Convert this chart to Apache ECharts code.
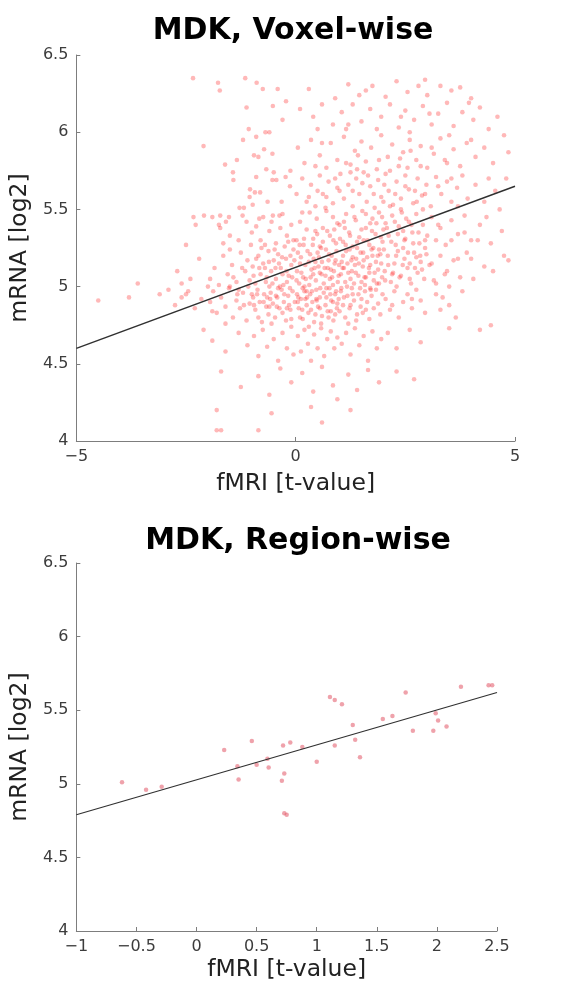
<!DOCTYPE html>
<html><head><meta charset="utf-8">
<script src="https://cdn.jsdelivr.net/npm/echarts@6/dist/echarts.min.js"></script>
<style>html,body{margin:0;padding:0;background:#fff}#c{width:568px;height:987px}</style>
</head><body><div id="c"></div>
<script>
// ---------- DATA ----------
const voxelTitle = 'MDK, Voxel-wise';
const regionTitle = 'MDK, Region-wise';
const xName = 'fMRI [t-value]';
const yName = 'mRNA [log2]';

// voxel-wise scatter (hand-read representative sample of the dense cloud)
const voxelUpperLeft = [
[-2.34,6.35],[-1.77,6.32],[-1.73,6.27],[-1.15,6.35],[-0.89,6.32],[-0.75,6.28],[-0.41,6.28],[-1.12,6.16],[-0.52,6.17],[-0.22,6.2],[-0.3,6.08],
[-1.07,6.02],[-0.69,6.0],[-0.6,6.0],[-2.1,5.91],[-1.2,5.95],[-0.9,5.97],[-0.72,5.89],[-0.95,5.85],[-0.85,5.84],[-0.53,5.86],[-1.34,5.82],
[-1.61,5.79],[-1.43,5.74],[-1.42,5.69],[-0.9,5.71],[-0.67,5.76],[-0.5,5.74],[-0.53,5.69],[-0.44,5.69],[-0.23,5.71],[-0.12,5.75],[-0.13,5.65],
[-1.04,5.63],[-0.93,5.61],[-0.81,5.61],[-1.05,5.58],[-0.64,5.55],[-1.28,5.51],[-1.18,5.51],[-0.98,5.53],[-0.32,5.55],[-2.33,5.45],[-2.09,5.46],
[-1.9,5.45],[-1.72,5.46],[-1.52,5.45],[-2.28,5.4],[-1.75,5.4],[-1.72,5.38],[-1.59,5.42],[-1.21,5.46],[-1.12,5.42],[-0.83,5.44],[-0.74,5.45],
[-0.52,5.46],[-0.37,5.46],[-0.3,5.47],[-2.5,5.27],
[-1.0,5.35],[-0.8,5.3],[-0.6,5.36],[-0.45,5.28],[-0.2,5.33],[-0.1,5.4],[-0.35,5.38],[-0.7,5.27],[-1.3,5.3],[-1.5,5.33],[-0.55,5.42],[-0.05,5.3],
[-0.9,5.39],[-0.25,5.26],[-1.65,5.28]
];
const voxelUpperRight = [
[0.3,6.28],[0.9,6.22],[1.2,6.31],[1.6,6.27],[1.75,6.3],[2.05,6.23],[2.3,6.33],[2.55,6.26],[2.8,6.3],[3.0,6.24],[3.3,6.3],[3.55,6.27],[3.75,6.29],[4.0,6.22],[1.45,6.24],[2.95,6.34],
[0.1,6.15],[0.4,6.1],[0.6,6.18],[0.85,6.05],[1.05,6.13],[1.3,6.18],[1.5,6.07],[1.7,6.15],[1.95,6.1],[2.15,6.18],[2.35,6.03],[2.5,6.14],[2.7,6.08],[2.9,6.17],
[3.1,6.05],[3.25,6.12],[3.45,6.19],[3.6,6.04],[3.8,6.13],[4.05,6.08],[4.2,6.16],[4.4,6.02],[4.6,6.1],[1.15,6.02],[2.6,6.0],[3.95,6.19],[0.5,6.02],[4.75,5.98],
[0.05,5.9],[0.2,5.8],[0.35,5.95],[0.55,5.85],[0.7,5.77],[0.8,5.93],[0.95,5.82],[1.1,5.97],[1.25,5.79],[1.35,5.88],[1.5,5.94],[1.6,5.81],[1.72,5.9],[1.85,5.76],
[1.95,5.98],[2.1,5.84],[2.2,5.92],[2.35,5.78],[2.45,5.87],[2.6,5.95],[2.75,5.82],[2.85,5.91],[3.0,5.77],[3.15,5.86],[3.3,5.96],[3.45,5.8],[3.6,5.89],[3.75,5.78],
[3.9,5.93],[4.1,5.84],[4.3,5.9],[4.5,5.8],[4.85,5.87],[1.4,5.76],[2.55,5.77],[0.45,5.78],
[0.02,5.6],[0.15,5.7],[0.25,5.55],[0.35,5.66],[0.45,5.52],[0.55,5.72],[0.62,5.6],[0.75,5.68],[0.85,5.54],[0.95,5.64],[1.02,5.73],[1.1,5.57],[1.2,5.66],[1.3,5.52],
[1.38,5.7],[1.45,5.6],[1.55,5.74],[1.62,5.55],[1.7,5.65],[1.8,5.51],[1.88,5.69],[1.95,5.58],[2.05,5.73],[2.12,5.62],[2.22,5.53],[2.3,5.68],[2.4,5.57],[2.5,5.72],
[2.58,5.63],[2.68,5.54],[2.78,5.7],[2.88,5.59],[2.98,5.66],[3.08,5.52],[3.2,5.71],[3.32,5.6],[3.45,5.68],[3.55,5.55],[3.68,5.64],[3.8,5.72],[3.92,5.57],[4.1,5.66],
[4.3,5.55],[4.55,5.62],[4.8,5.7],[1.25,5.74],[2.0,5.55],[0.68,5.51],
[0.02,5.3],[0.1,5.42],[0.18,5.27],[0.25,5.37],[0.32,5.48],[0.4,5.31],[0.48,5.44],[0.55,5.26],[0.62,5.38],[0.7,5.49],[0.78,5.33],[0.85,5.45],[0.92,5.28],[1.0,5.4],
[1.08,5.29],[1.15,5.47],[1.22,5.35],[1.3,5.26],[1.37,5.43],[1.45,5.32],[1.52,5.49],[1.6,5.38],[1.68,5.27],[1.75,5.44],[1.82,5.34],[1.9,5.48],[1.98,5.29],[2.05,5.41],
[2.12,5.33],[2.2,5.46],[2.28,5.27],[2.35,5.39],[2.42,5.48],[2.5,5.31],[2.58,5.42],[2.66,5.35],[2.75,5.47],[2.82,5.28],[2.9,5.4],[3.0,5.33],[3.1,5.45],[3.2,5.3],
[3.3,5.38],[3.42,5.27],[3.55,5.43],[3.7,5.34],[3.85,5.46],[4.0,5.3],[4.2,5.4],[4.45,5.28],[4.7,5.36],[0.45,5.36],[1.12,5.38],[1.55,5.3],[2.0,5.37],[2.45,5.36],
[0.88,5.37],[1.7,5.41],[0.15,5.48],[2.95,5.25]
];
const voxelCore = [
[-3.6,5.02],[-2.7,5.1],[-2.4,5.05],[-2.2,5.18],
[-1.95,5.05],[-1.85,5.12],[-1.75,5.01],[-1.65,5.2],[-1.55,5.08],[-1.45,5.14],[-1.35,5.03],[-1.25,5.22],[-1.15,5.1],[-1.05,5.04],[-1.5,5.24],[-1.1,5.17],
[-0.98,5.13],[-0.92,5.02],[-0.85,5.2],[-0.8,5.08],[-0.74,5.15],[-0.68,5.03],[-0.62,5.23],[-0.56,5.1],[-0.5,5.17],[-0.45,5.05],[-0.4,5.21],[-0.34,5.12],[-0.28,5.01],
[-0.22,5.18],[-0.16,5.07],[-0.1,5.14],[-0.05,5.24],[-0.6,5.0],[-0.3,5.08],[-0.9,5.18],[-0.7,5.12],[-0.2,5.03],[-0.48,5.24],[-0.12,5.2],[-0.38,5.15],
[0.03,5.1],[0.08,5.02],[0.12,5.19],[0.17,5.06],[0.22,5.14],[0.27,5.23],[0.31,5.01],[0.36,5.11],[0.41,5.18],[0.46,5.04],[0.5,5.22],[0.55,5.09],[0.6,5.16],[0.64,5.02],
[0.69,5.24],[0.73,5.12],[0.78,5.05],[0.82,5.2],[0.87,5.1],[0.91,5.17],[0.96,5.03],[0.99,5.14],[0.2,5.0],[0.4,5.08],[0.58,5.25],[0.75,5.17],[0.93,5.23],[0.1,5.15],
[0.33,5.21],[0.52,5.13],[0.68,5.07],[0.85,5.01],[0.05,5.22],[0.45,5.16],[0.8,5.11],
[1.03,5.08],[1.08,5.2],[1.13,5.03],[1.18,5.15],[1.23,5.24],[1.28,5.1],[1.33,5.02],[1.38,5.18],[1.43,5.07],[1.48,5.22],[1.53,5.13],[1.58,5.01],[1.63,5.19],[1.68,5.09],
[1.73,5.24],[1.78,5.04],[1.83,5.16],[1.88,5.11],[1.93,5.21],[1.97,5.06],[1.1,5.12],[1.25,5.05],[1.4,5.25],[1.55,5.17],[1.7,5.14],[1.85,5.02],[1.95,5.15],[1.15,5.23],
[1.35,5.14],[1.6,5.06],[1.75,5.2],[1.05,5.16],[1.5,5.03],[1.9,5.24],[1.3,5.19],
[2.03,5.1],[2.1,5.2],[2.17,5.03],[2.25,5.15],[2.33,5.23],[2.4,5.07],[2.48,5.18],[2.55,5.12],[2.63,5.02],[2.7,5.22],[2.78,5.09],[2.85,5.16],[2.93,5.05],[2.98,5.21],
[2.2,5.08],[2.45,5.25],[2.6,5.15],[2.88,5.11],[2.3,5.0],[2.75,5.19],
[3.05,5.14],[3.15,5.04],[3.3,5.2],[3.45,5.1],[3.6,5.17],[3.75,5.06],[3.9,5.22],[3.5,5.0],[4.3,5.13],[4.75,5.2],[4.05,5.05],[4.5,5.1],[4.85,5.17]
];
const voxelDense = [
[-1.42,5.06],[-1.33,4.95],[-1.22,5.12],[-1.18,4.88],[-1.08,5.0],[-1.02,5.27],[-0.96,5.07],[-0.88,4.95],[-0.83,5.12],[-0.78,5.25],[-0.73,4.9],[-0.66,5.06],[-0.61,5.16],
[-0.58,4.92],[-0.53,5.02],[-0.46,5.12],[-0.43,4.87],[-0.36,5.0],[-0.31,5.19],[-0.26,4.95],[-0.21,5.1],[-0.17,5.29],[-0.13,4.99],[-0.08,5.06],[-0.03,5.17],
[0.02,5.04],[0.06,4.93],[0.09,5.27],[0.13,5.09],[0.16,4.99],[0.19,5.31],[0.23,5.05],[0.26,4.93],[0.3,5.16],[0.34,5.06],[0.37,4.97],[0.39,5.27],[0.43,5.12],[0.47,4.92],
[0.49,5.34],[0.53,5.19],[0.56,4.99],[0.59,5.08],[0.62,5.29],[0.66,5.12],[0.7,4.99],[0.72,5.36],[0.76,5.21],[0.79,4.95],[0.83,5.06],[0.86,5.3],[0.89,5.15],[0.92,4.97],
[0.95,5.41],[0.98,5.07],
[1.01,5.31],[1.04,4.99],[1.07,5.12],[1.1,5.42],[1.14,5.27],[1.17,5.0],[1.2,5.09],[1.24,5.33],[1.27,5.17],[1.3,4.95],[1.34,5.45],[1.37,5.09],[1.4,5.29],[1.44,5.15],
[1.47,4.99],[1.5,5.37],[1.54,5.22],[1.57,5.06],[1.6,5.47],[1.64,5.3],[1.67,5.12],[1.71,4.98],[1.74,5.36],[1.77,5.25],[1.8,5.09],[1.84,5.41],[1.87,5.2],[1.9,5.02],
[1.94,5.32],[1.97,5.45],
[2.01,5.24],[2.04,5.04],[2.08,5.38],[2.11,5.14],[2.15,5.52],[2.18,5.29],[2.22,5.09],[2.26,5.42],[2.29,5.2],[2.33,5.34],[2.37,5.06],[2.4,5.5],[2.44,5.14],[2.48,5.3],
[2.52,5.44],[2.56,5.22],[2.6,5.05],[2.64,5.4],[2.68,5.28],[2.72,5.12],[2.76,5.55],[2.8,5.35],[2.84,5.2],[2.9,5.5],[2.95,5.3],
[0.3,5.58],[0.5,5.62],[0.7,5.58],[0.9,5.7],[1.0,5.62],[1.15,5.8],[1.3,5.62],[1.42,5.85],[1.52,5.67],[1.65,5.72],[1.78,5.6],[1.9,5.82],[2.02,5.66],[2.15,5.75],
[2.27,5.6],[2.38,5.83],[2.5,5.65],[2.62,5.88],[2.72,5.62],[2.85,5.78],[2.95,5.6],[3.1,5.9],[3.25,5.65],[3.4,5.82],[3.55,5.7],[3.7,5.52],[0.6,5.93],[1.2,6.05],
[1.85,6.02],[2.4,6.1],[3.05,6.12],[3.5,5.98],[4.0,5.95],[4.4,5.7],[4.65,5.5],
[3.1,5.15],[3.25,5.4],[3.4,5.08],[3.55,5.3],[3.7,5.18],[3.85,5.35],[4.0,5.18],[4.15,5.3],[4.35,5.45],[3.2,5.02],[3.35,4.93],[2.65,4.92],[2.2,4.88],[1.6,4.85],
[0.95,4.89],[0.25,4.97],[-0.45,4.94],[-1.0,4.95],[-1.5,5.0],[-2.0,5.0],[-2.5,4.95],[-2.6,5.02],
[0.15,4.85],[0.55,4.86],[0.85,4.9],[1.25,4.88],[-0.2,4.86],[-0.6,4.87],[0.45,4.82],[0.75,4.8],[1.0,4.84],[1.4,4.82]
];
const voxelLower = [
[-4.5,4.91],[-3.8,4.93],[-3.1,4.95],
[-2.9,4.98],[-2.75,4.88],[-2.6,4.93],[-2.45,4.97],[-2.3,4.86],[-2.15,4.92],
[-1.95,4.9],[-1.88,4.97],[-1.8,4.83],[-1.7,4.93],[-1.6,4.87],[-1.52,4.99],[-1.43,4.8],[-1.35,4.91],[-1.27,4.86],[-1.2,4.96],[-1.12,4.78],[-1.05,4.89],[-1.6,4.76],
[-1.3,4.98],[-1.9,4.84],
[-0.97,4.93],[-0.92,4.85],[-0.87,4.98],[-0.82,4.9],[-0.77,4.77],[-0.72,4.95],[-0.67,4.87],[-0.62,4.82],[-0.57,4.96],[-0.52,4.89],[-0.47,4.8],[-0.42,4.93],[-0.37,4.86],
[-0.32,4.98],[-0.27,4.9],[-0.22,4.78],[-0.17,4.94],[-0.12,4.85],[-0.07,4.97],[-0.02,4.9],[-0.85,4.8],[-0.55,4.76],[-0.3,4.83],[-0.1,4.79],[-0.65,4.93],[-0.4,4.99],
[-0.95,4.88],[-0.15,4.88],
[0.03,4.95],[0.07,4.86],[0.12,4.92],[0.16,4.79],[0.2,4.97],[0.25,4.88],[0.29,4.83],[0.33,4.95],[0.38,4.9],[0.42,4.77],[0.47,4.98],[0.51,4.87],[0.55,4.93],[0.6,4.81],
[0.64,4.96],[0.68,4.88],[0.73,4.84],[0.77,4.99],[0.81,4.91],[0.86,4.78],[0.9,4.95],[0.94,4.86],[0.98,4.92],[0.1,4.8],[0.35,4.85],[0.58,4.76],[0.8,4.84],[0.22,4.92],
[0.48,4.91],[0.7,4.93],[0.9,4.82],[0.05,4.9],
[1.03,4.97],[1.08,4.88],[1.13,4.8],[1.18,4.94],[1.23,4.86],[1.28,4.99],[1.33,4.91],[1.38,4.78],[1.43,4.95],[1.48,4.87],[1.53,4.83],[1.58,4.97],[1.63,4.9],[1.68,4.79],
[1.73,4.94],[1.78,4.86],[1.83,4.98],[1.88,4.89],[1.93,4.82],[1.98,4.95],[1.2,4.76],[1.5,4.92],[1.7,4.99],[1.1,4.93],
[2.05,4.92],[2.15,4.85],[2.25,4.97],[2.35,4.8],[2.45,4.9],[2.55,4.95],[2.65,4.86],[2.75,4.98],[2.85,4.91],[2.95,4.83],
[3.2,4.95],[3.5,4.88],[3.8,4.97],[3.3,4.85],[3.65,4.8],[4.45,4.75],
[-2.1,4.72],[-1.9,4.65],[-1.6,4.58],[-1.3,4.7],[-1.1,4.62],
[-0.95,4.68],[-0.85,4.55],[-0.75,4.72],[-0.65,4.61],[-0.5,4.66],[-0.4,4.52],[-0.3,4.7],[-0.2,4.6],[-0.1,4.74],[-0.05,4.56],
[0.05,4.68],[0.12,4.58],[0.2,4.72],[0.28,4.63],[0.35,4.52],[0.42,4.69],[0.5,4.6],[0.58,4.73],[0.65,4.55],[0.72,4.66],[0.8,4.71],[0.88,4.6],[0.95,4.67],[0.3,4.74],
[1.05,4.63],[1.15,4.7],[1.25,4.56],[1.35,4.73],[1.45,4.62],[1.55,4.68],[1.65,4.52],[1.75,4.71],[1.85,4.6],[1.95,4.66],
[2.1,4.7],[2.3,4.6],[2.6,4.72],[2.85,4.64],[3.5,4.73],[4.2,4.72],
[-1.7,4.45],[-1.25,4.35],[-0.85,4.42],[-0.6,4.3],[-0.35,4.47],[-0.1,4.38],[0.15,4.44],[0.4,4.32],[0.6,4.48],[0.85,4.36],[0.95,4.27],[1.2,4.43],[1.4,4.33],
[1.65,4.46],[1.9,4.38],[2.3,4.45],[2.7,4.4],
[-1.8,4.2],[-1.8,4.07],[-1.7,4.07],[-0.85,4.07],[-0.55,4.18],[0.35,4.22],[0.6,4.12],[1.25,4.2]
];
const voxelFitX = [-5, 5];
const voxelFitY = [4.6, 5.65];

// region-wise scatter
const regionX = [-0.62,-0.42,-0.29,0.23,0.34,0.35,0.46,0.5,0.59,0.6,0.72,0.71,0.73,0.73,0.75,0.78,0.88,1.0,1.11,1.15,1.15,1.21,1.3,1.32,1.36,1.55,1.63,1.74,1.8,1.97,1.99,2.01,2.08,2.2,2.43,2.46];
const regionY = [5.01,4.96,4.98,5.23,5.12,5.03,5.29,5.13,5.17,5.11,5.26,5.02,5.07,4.8,4.79,5.28,5.25,5.15,5.59,5.57,5.26,5.54,5.4,5.3,5.18,5.44,5.46,5.62,5.36,5.36,5.48,5.43,5.39,5.66,5.67,5.67];
const regionFitX = [-1, 2.5];
const regionFitY = [4.79, 5.62];

// axes ranges / ticks
const voxelXRange = {min: -5, max: 5, interval: 5};
const regionXRange = {min: -1, max: 2.5, interval: 0.5};
const yRange = {min: 4, max: 6.5, interval: 0.5};

// ---------- CHART ----------
const FONT = 'DejaVu Sans';
const axisColor = '#7d7d7d';
const labelColor = '#3c3c3c';
const fmt = v => (v < 0 ? '\u2212' + Math.abs(v) : String(v));

function axisBase(extra) {
  return Object.assign({
    axisLine: {show: true, onZero: false, lineStyle: {color: axisColor, width: 1}},
    axisTick: {show: true, inside: true, length: 4, lineStyle: {color: axisColor}},
    axisLabel: {color: labelColor, fontSize: 16, fontFamily: FONT, formatter: fmt},
    splitLine: {show: false},
    nameLocation: 'middle',
    nameTextStyle: {color: '#222', fontSize: 23.5, fontFamily: FONT}
  }, extra);
}

const voxelPoints = voxelUpperLeft.concat(voxelUpperRight, voxelCore, voxelDense, voxelLower);
const zip = (a, b) => a.map((v, i) => [v, b[i]]);

const chart = echarts.init(document.getElementById('c'), null, {renderer: 'canvas'});
chart.setOption({
  animation: false,
  backgroundColor: '#fff',
  title: [
    {text: voxelTitle, left: 288, top: 11, textAlign: 'center',
     textStyle: {fontSize: 30, fontWeight: 'bold', fontFamily: FONT, color: '#000'}},
    {text: regionTitle, left: 293, top: 521, textAlign: 'center',
     textStyle: {fontSize: 30, fontWeight: 'bold', fontFamily: FONT, color: '#000'}}
  ],
  grid: [
    {left: 72, top: 55, width: 443, height: 386},
    {left: 75, top: 563, width: 422, height: 368}
  ],
  xAxis: [
    axisBase(Object.assign({type: 'value', gridIndex: 0, name: xName, nameGap: 31}, voxelXRange)),
    axisBase(Object.assign({type: 'value', gridIndex: 1, name: xName, nameGap: 27}, regionXRange))
  ],
  yAxis: [
    axisBase(Object.assign({type: 'value', gridIndex: 0, name: yName, nameGap: 29}, yRange)),
    axisBase(Object.assign({type: 'value', gridIndex: 1, name: yName, nameGap: 29}, yRange))
  ],
  series: [
    {type: 'scatter', xAxisIndex: 0, yAxisIndex: 0, data: voxelPoints, symbolSize: 4.6,
     itemStyle: {color: 'rgba(255,35,35,0.4)'}, z: 2},
    {type: 'line', xAxisIndex: 0, yAxisIndex: 0, data: zip(voxelFitX, voxelFitY), symbol: 'none',
     lineStyle: {color: '#303030', width: 1.4}, z: 3},
    {type: 'scatter', xAxisIndex: 1, yAxisIndex: 1, data: zip(regionX, regionY), symbolSize: 4.5,
     itemStyle: {color: 'rgba(228,100,115,0.75)'}, z: 2},
    {type: 'line', xAxisIndex: 1, yAxisIndex: 1, data: zip(regionFitX, regionFitY), symbol: 'none',
     lineStyle: {color: '#303030', width: 1.2}, z: 3}
  ]
});
</script>
</body></html>
